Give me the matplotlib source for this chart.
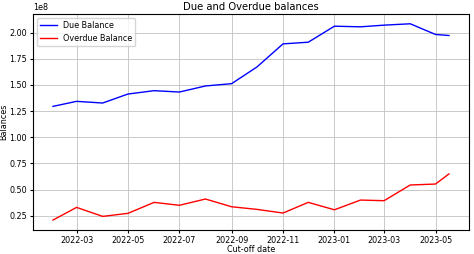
import matplotlib
matplotlib.use('Agg')
import matplotlib.pyplot as plt
import pandas as pd

dates = list(pd.date_range('2022-02-01', '2023-05-01', freq='MS')) + [pd.Timestamp('2023-05-17')]
due = [1.295, 1.343, 1.327, 1.413, 1.445, 1.432, 1.490, 1.512, 1.671,
       1.892, 1.908, 2.061, 2.055, 2.071, 2.084, 1.982, 1.972]
overdue = [0.209, 0.330, 0.244, 0.273, 0.378, 0.350, 0.410, 0.336, 0.311,
           0.276, 0.378, 0.307, 0.400, 0.394, 0.544, 0.553, 0.650]
due = [v * 1e8 for v in due]
overdue = [v * 1e8 for v in overdue]

plt.rcParams['font.size'] = 5.8
fig, ax = plt.subplots(figsize=(4.74, 2.54), dpi=100)
fig.subplots_adjust(left=0.07, right=0.989, top=0.945, bottom=0.095)

ax.plot(dates, due, color='blue', lw=1, label='Due Balance')
ax.plot(dates, overdue, color='red', lw=1, label='Overdue Balance')
ax.set_title('Due and Overdue balances', fontsize=7.2, pad=3)
ax.set_xlabel('Cut-off date', labelpad=0)
ax.set_ylabel('Balances', labelpad=1)
ax.grid(True, lw=0.6, color='#c0c0c0')
ax.legend(loc='upper left')
ax.tick_params(pad=2, length=2.5)

fig.savefig('out.png', dpi=100)
